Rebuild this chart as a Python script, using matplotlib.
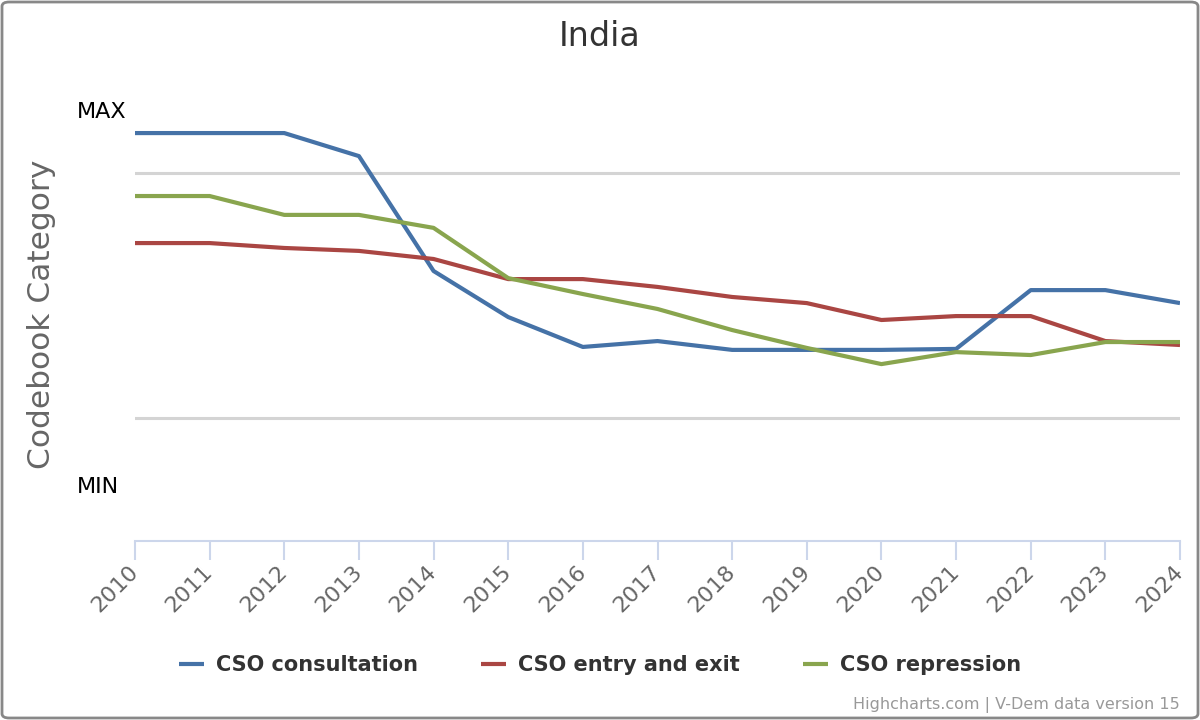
import matplotlib
matplotlib.use('Agg')
from matplotlib import pyplot as plt
from matplotlib.patches import FancyBboxPatch
import matplotlib.transforms as mtransforms

years = list(range(2010, 2025))

cso_consultation = [2.163, 2.163, 2.163, 2.069, 1.600, 1.412, 1.290, 1.314,
                    1.278, 1.278, 1.278, 1.282, 1.522, 1.522, 1.469]
cso_entry_exit = [1.714, 1.714, 1.694, 1.682, 1.649, 1.567, 1.567, 1.535,
                  1.494, 1.469, 1.400, 1.416, 1.416, 1.314, 1.298]
cso_repression = [1.906, 1.906, 1.829, 1.829, 1.776, 1.571, 1.506, 1.445,
                  1.359, 1.286, 1.220, 1.269, 1.257, 1.310, 1.310]

series = [('CSO consultation', cso_consultation, '#4572A7'),
          ('CSO entry and exit', cso_entry_exit, '#AA4643'),
          ('CSO repression', cso_repression, '#89A54E')]

W, H = 1200, 720
fig = plt.figure(figsize=(12, 7.2), dpi=100)
ax = fig.add_axes([135 / W, 1 - 540.5 / H, 1045 / W, 490 / H])

for label, vals, clr in series:
    ax.plot(years, vals, color=clr, lw=3, label=label, solid_capstyle='butt')

ax.set_xlim(2010, 2024)
ax.set_ylim(0.5, 2.5)

# grid lines at the category breaks
ax.set_yticks([1, 2])
ax.yaxis.grid(True, color='#d4d4d4', lw=2.2)
ax.tick_params(axis='y', length=0, labelleft=False)
ax.set_axisbelow(True)

for s in ['top', 'right', 'left']:
    ax.spines[s].set_visible(False)
ax.spines['bottom'].set_color('#ccd6eb')
ax.spines['bottom'].set_linewidth(1.5)

ax.set_xticks(years)
ax.set_xticklabels([str(y) for y in years], rotation=45, ha='right',
                   va='center', rotation_mode='anchor', fontsize=16,
                   color='#666666')
ax.tick_params(axis='x', length=14, width=1.5, color='#ccd6eb', pad=6)

# MAX / MIN labels
trans = mtransforms.blended_transform_factory(fig.transFigure, ax.transData)
ax.text(77 / W, 2.249, 'MAX', transform=trans, ha='left', va='center',
        fontsize=16, color='black')
ax.text(77 / W, 0.718, 'MIN', transform=trans, ha='left', va='center',
        fontsize=16, color='black')

fig.text(42 / W, 1 - 314 / H, 'Codebook Category', rotation=90,
         ha='center', va='center', fontsize=22.5, color='#666666')

fig.text(0.5, 1 - 36 / H, 'India', ha='center', va='center',
         fontsize=24, color='#333333')

leg = fig.legend(loc='center', bbox_to_anchor=(600 / W, 1 - 665 / H), ncol=3,
                 frameon=False, handlelength=1.2, handletextpad=0.6,
                 columnspacing=3.0,
                 prop={'size': 15, 'weight': 'bold'})
for t in leg.get_texts():
    t.set_color('#333333')

fig.text(1180 / W, 1 - 705 / H, 'Highcharts.com | V-Dem data version 15',
         ha='right', va='center', fontsize=11.5, color='#999999')

border = FancyBboxPatch((2 / W, 2 / H), 1 - 4 / W, 1 - 4 / H,
                        boxstyle='round,pad=0,rounding_size=0.006',
                        transform=fig.transFigure, fill=False,
                        edgecolor='#888888', lw=2)
fig.patches.append(border)

fig.savefig('out.png', dpi=100, facecolor='white')
